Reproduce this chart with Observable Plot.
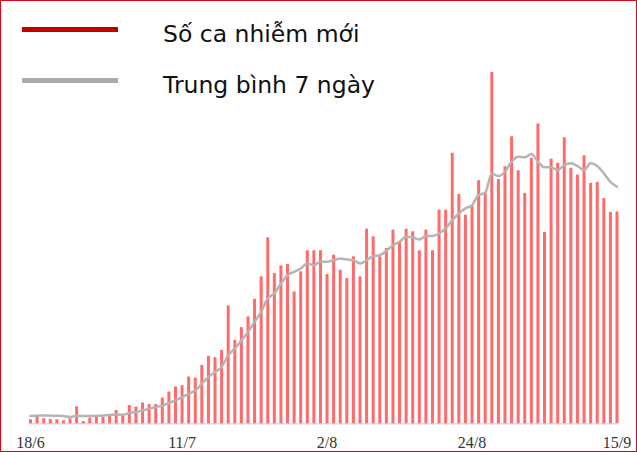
<!DOCTYPE html>
<html><head><meta charset="utf-8">
<script src="https://cdn.jsdelivr.net/npm/d3@7"></script>
<script src="https://cdn.jsdelivr.net/npm/@observablehq/plot@0.6"></script>
<style>
html,body{margin:0;padding:0;background:#fff;}
#wrap{position:relative;width:637px;height:452px;overflow:hidden;font-family:"DejaVu Sans",sans-serif;}
#chart{position:absolute;left:0;top:0;}
#frame{position:absolute;left:0;top:0;width:637px;height:452px;box-sizing:border-box;border:1px solid #e3001b;pointer-events:none;}
.sw{position:absolute;left:22px;width:96px;height:5px;}
.lab{position:absolute;left:163px;font-size:23.5px;line-height:23.5px;color:#111;white-space:nowrap;}
</style></head><body>
<div id="wrap">
  <div id="chart"></div>
  <div class="sw" style="top:27px;background:#c00000"></div>
  <div class="lab" style="top:23.4px">Số ca nhiễm mới</div>
  <div class="sw" style="top:77.5px;background:#ababab"></div>
  <div class="lab" style="top:74.1px">Trung bình 7 ngày</div>
  <div id="frame"></div>
</div>
<script>
const startDate = "2021-06-18";
const cases = [170,327,213,183,170,128,213,723,98,242,285,285,327,565,327,778,710,880,820,820,
  1092,1347,1560,1615,1985,1942,2478,2860,2805,3115,5002,3540,4080,4535,5283,6235,7892,6375,6702,6758,
  5597,6447,7340,7340,7340,6333,7153,6515,6163,7085,6235,8258,7935,7085,7438,8215,7722,8258,8147,7340,
  8215,7340,9065,9065,11475,9733,8853,9235,10315,9805,14905,10370,10906,12181,10736,9775,11263,12720,8118,11220,
  11050,12138,10838,10553,11373,10200,10243,9563,8968,8993];
const avg7 = [327,353,353,353,340,327,285,340,327,327,340,353,370,395,383,455,497,565,638,710,
  778,880,990,1135,1275,1415,1700,1985,2197,2410,2903,3188,3540,3897,4322,4747,5313,5525,5950,6303,
  6447,6588,6800,6728,6872,6872,6940,7013,6970,6940,6800,6940,7110,7153,7340,7578,7722,7935,7905,7820,
  7973,7973,8075,8288,8640,8925,9138,9278,9703,9801,10625,10510,10693,11118,11331,11305,11445,11118,10880,10880,
  10765,10978,11050,10935,10765,11050,10935,10625,10268,10056];
const tickDates = ["2021-06-18","2021-07-11","2021-08-02","2021-08-24","2021-09-15"];

const start = new Date(startDate + "T00:00:00Z");
const data = cases.map((v, i) => ({date: d3.utcDay.offset(start, i), cases: v, avg: avg7[i]}));

const chart = Plot.plot({
  width: 637, height: 452,
  marginLeft: 30, marginRight: 20.5, marginTop: 72, marginBottom: 28.7,
  style: {fontFamily: "'Liberation Serif', serif", fontSize: "16px", color: "#333", background: "transparent"},
  x: {type: "utc", domain: [data[0].date, data[data.length - 1].date],
      ticks: tickDates.map(d => new Date(d + "T00:00:00Z")),
      tickFormat: d3.utcFormat("%-d/%-m"), tickSize: 0, tickPadding: 12.5, label: null},
  y: {domain: [0, d3.max(cases)], axis: null},
  marks: [
    Plot.ruleY([0], {stroke: "#d3dbef", strokeWidth: 1.5}),
    Plot.ruleX(data, {x: "date", y1: 0, y2: "cases", stroke: "#ff6b6b", strokeWidth: 3}),
    Plot.line(data, {x: "date", y: "avg", stroke: "#b5b5b5", strokeWidth: 2.5, curve: "monotone-x"})
  ]
});
document.getElementById("chart").appendChild(chart);
</script>
</body></html>
